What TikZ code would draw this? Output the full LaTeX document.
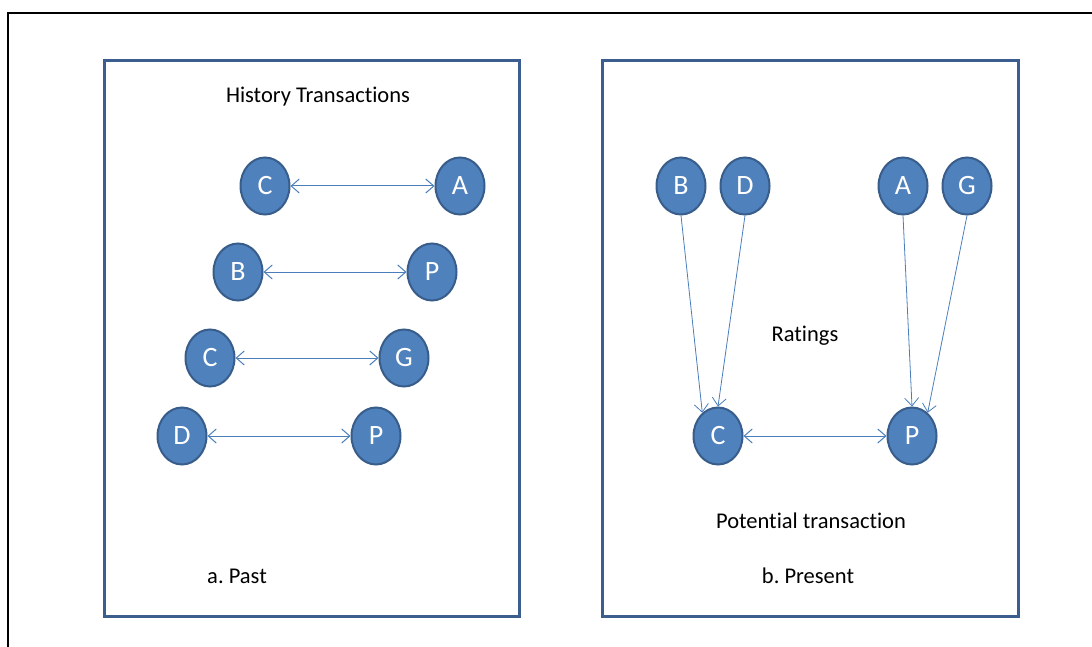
\documentclass[tikz,border=0pt]{standalone}
\usepackage{fontspec}
\setmainfont[Ligatures=NoCommon]{Carlito}
\frenchspacing
\usetikzlibrary{arrows.meta,shapes.geometric}
\definecolor{nodefill}{HTML}{4F81BD}
\definecolor{nodeline}{HTML}{385D8A}
\definecolor{arrowcol}{HTML}{4A7EBB}
\definecolor{boxline}{HTML}{3B5E8E}
\tikzset{
  ent/.style={ellipse, draw=nodeline, fill=nodefill, line width=2pt, minimum width=49pt, minimum height=57pt, inner sep=0pt, text=white, font=\fontsize{28}{30}\selectfont},
  panel/.style={draw=boxline, line width=3pt},
  lbl/.style={font=\fontsize{22.5}{26}\selectfont, text=black},
  link/.style={draw=arrowcol, line width=1pt, {Straight Barb[length=8pt,width=14pt]}-{Straight Barb[length=8pt,width=14pt]}},
  rate/.style={draw=arrowcol, line width=0.8pt, -{Straight Barb[length=8pt,width=14pt]}}
}
\begin{document}
\begin{tikzpicture}[x=1pt,y=-1pt]
\useasboundingbox (0,0) rectangle (1092,647);
\draw[black, line width=2.5pt] (8,648) -- (8,13) -- (1093,13);
\draw[panel] (104,61) rectangle (519,616);
\draw[panel] (602,61) rectangle (1018,616);
% left panel
\node[lbl] (t1) at (318,97) {History Transactions};
\node[lbl] (t2) at (237,576) {a. Past};
\node[ent] (c1) at (265,186) {C};
\node[ent] (a1) at (460,186) {A};
\node[ent] (b1) at (238,272) {B};
\node[ent] (p1) at (432,272) {P};
\node[ent] (c2) at (210,358) {C};
\node[ent] (g1) at (404,358) {G};
\node[ent] (d1) at (182,436) {D};
\node[ent] (p2) at (376,436) {P};
\draw[link] (c1) -- (a1);
\draw[link] (b1) -- (p1);
\draw[link] (c2) -- (g1);
\draw[link] (d1) -- (p2);
% right panel
\node[ent] (b2) at (681,186) {B};
\node[ent] (d2) at (745,186) {D};
\node[ent] (a2) at (903,186) {A};
\node[ent] (g2) at (967,186) {G};
\node[ent] (c3) at (718,436) {C};
\node[ent] (p3) at (912,436) {P};
\node[lbl] (t3) at (805,336) {Ratings};
\node[lbl] (t4) at (811,521) {Potential transaction};
\node[lbl] (t5) at (808,576) {b. Present};
\draw[rate] (b2.south) -- (c3.124);
\draw[rate] (d2.south) -- (c3.north);
\draw[rate] (a2.south) -- (p3.north);
\draw[rate] (g2.south) -- (p3.56);
\draw[link] (c3) -- (p3);
\end{tikzpicture}
\end{document}
